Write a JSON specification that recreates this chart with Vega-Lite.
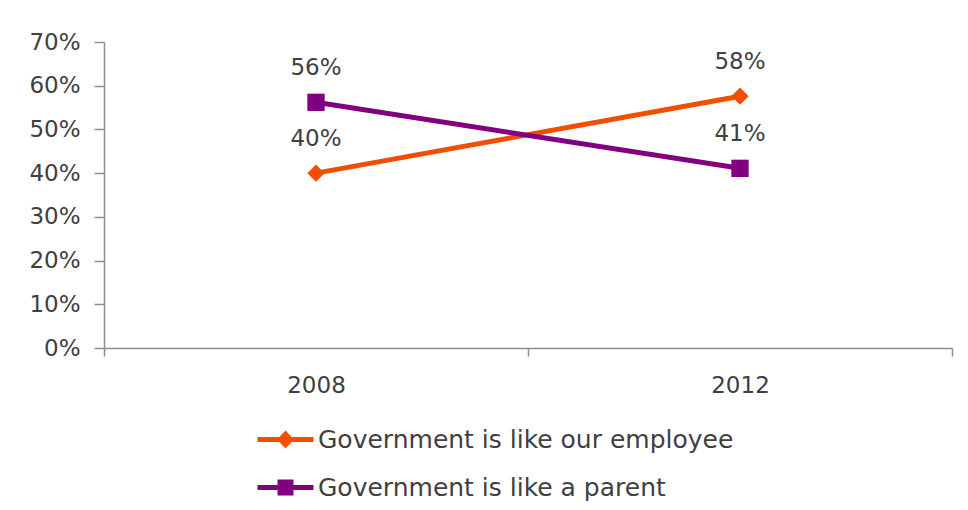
{
  "$schema": "https://vega.github.io/schema/vega-lite/v6.json",
  "width": 848,
  "height": 306,
  "autosize": {"type": "none"},
  "padding": {"left": 104, "top": 42, "right": 16, "bottom": 162},
  "background": "white",
  "config": {"view": {"stroke": null}, "font": "DejaVu Sans"},
  "data": {
    "values": [
      {"year": "2008", "series": "Government is like our employee", "value": 0.40},
      {"year": "2012", "series": "Government is like our employee", "value": 0.576},
      {"year": "2008", "series": "Government is like a parent", "value": 0.562},
      {"year": "2012", "series": "Government is like a parent", "value": 0.411}
    ]
  },
  "encoding": {
    "x": {
      "field": "year",
      "type": "nominal",
      "scale": {"type": "band", "paddingInner": 0, "paddingOuter": 0},
      "axis": {
        "title": null,
        "labelAngle": 0,
        "labelFont": "DejaVu Sans",
        "labelFontSize": 23,
        "labelColor": "#404040",
        "labelPadding": 18,
        "tickBand": "extent",
        "tickSize": 8,
        "tickColor": "#8e8e8e",
        "tickWidth": 1.5,
        "domainColor": "#8e8e8e",
        "domainWidth": 1.5,
        "grid": false
      }
    },
    "y": {
      "field": "value",
      "type": "quantitative",
      "scale": {"domain": [0, 0.7]},
      "axis": {
        "title": null,
        "values": [0, 0.1, 0.2, 0.3, 0.4, 0.5, 0.6, 0.7],
        "format": ".0%",
        "labelFont": "DejaVu Sans",
        "labelFontSize": 23,
        "labelColor": "#404040",
        "labelPadding": 14,
        "tickSize": 10,
        "tickColor": "#8e8e8e",
        "tickWidth": 1.5,
        "domainColor": "#8e8e8e",
        "domainWidth": 1.5,
        "grid": false
      }
    },
    "color": {
      "field": "series",
      "type": "nominal",
      "scale": {
        "domain": ["Government is like our employee", "Government is like a parent"],
        "range": ["#F24E00", "#800080"]
      },
      "legend": {
        "title": null,
        "orient": "none",
        "legendX": 169,
        "legendY": 385,
        "direction": "vertical",
        "padding": 0,
        "labelFont": "DejaVu Sans",
        "labelFontSize": 25,
        "labelColor": "#404040",
        "labelLimit": 800,
        "labelOffset": 20,
        "symbolSize": 400,
        "rowPadding": 22,
        "encode": {
          "symbols": {
            "update": {
              "shape": {"signal": "datum.value === 'Government is like a parent' ? 'M-2.8,-0.25H2.8V0.25H-2.8Z M-0.8,-0.8H0.8V0.8H-0.8Z' : 'M-2.8,-0.25H2.8V0.25H-2.8Z M0,-0.9L0.85,0L0,0.9L-0.85,0Z'"},
              "fill": {"scale": "color", "field": "value"},
              "strokeWidth": {"value": 0},
              "opacity": {"value": 1}
            }
          }
        }
      }
    }
  },
  "layer": [
    {"mark": {"type": "line", "strokeWidth": 5}},
    {
      "mark": {"type": "point", "filled": true, "opacity": 1, "strokeWidth": 0, "size": 300},
      "encoding": {
        "shape": {
          "condition": {"test": "datum.series === 'Government is like a parent'", "value": "square"},
          "value": "diamond"
        }
      }
    },
    {
      "mark": {"type": "text", "dy": -34, "fontSize": 23, "font": "DejaVu Sans"},
      "encoding": {
        "text": {"field": "value", "type": "quantitative", "format": ".0%"},
        "color": {"value": "#404040"}
      }
    }
  ]
}
